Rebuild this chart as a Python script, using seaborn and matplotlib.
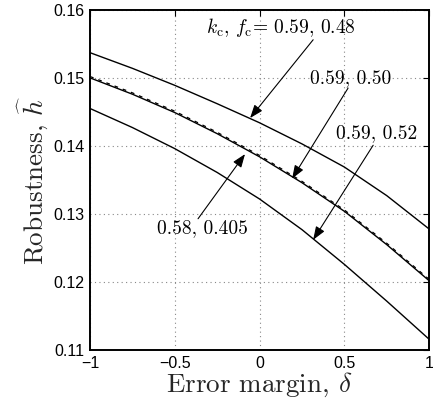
import matplotlib
matplotlib.use("Agg")
import matplotlib.pyplot as plt
import seaborn as sns
import pandas as pd

# ---- data ----
delta = [-1.0, -0.75, -0.5, -0.25, 0.0, 0.25, 0.5, 0.75, 1.0]
h_059_048 = [0.1537, 0.1514, 0.1489, 0.1462, 0.1434, 0.1403, 0.1369, 0.1327, 0.1278]
h_059_050 = [0.1500, 0.1476, 0.1449, 0.1418, 0.1384, 0.1346, 0.1304, 0.1255, 0.1202]
h_059_052 = [0.1455, 0.1427, 0.1396, 0.1361, 0.1322, 0.1277, 0.1226, 0.1172, 0.1116]
h_058_0405 = [0.1502, 0.1478, 0.1451, 0.1420, 0.1386, 0.1348, 0.1306, 0.1257, 0.1204]

x_ticks = [-1, -0.5, 0, 0.5, 1]
x_ticklabels = ["\u22121", "\u22120.5", "0", "0.5", "1"]
y_ticks = [0.11, 0.12, 0.13, 0.14, 0.15, 0.16]
y_ticklabels = ["0.11", "0.12", "0.13", "0.14", "0.15", "0.16"]

# annotation texts, label anchor (data) and arrow (tail, tip) in data units
labels = [r"$k_{\rm c}$, $f_{\rm c}$= 0.59, 0.48", "0.59, 0.50",
          "0.59, 0.52", "0.58, 0.405"]
label_xy = [(0.127, 0.1574), (0.540, 0.1499), (0.693, 0.1419), (-0.339, 0.1279)]
arrow_tail = [(0.316, 0.1556), (0.522, 0.1485), (0.670, 0.1401), (-0.363, 0.1293)]
arrow_tip = [(-0.056, 0.1441), (0.192, 0.1352), (0.316, 0.1262), (-0.086, 0.1388)]

sns.set_style("white")
plt.rcParams["mathtext.fontset"] = "cm"
plt.rcParams["font.family"] = ["Liberation Sans", "DejaVu Sans"]

fig = plt.figure(figsize=(4.33, 4.09), dpi=100)
ax = fig.add_axes([0.208, 0.144, 0.783, 0.832])

for ys in (h_059_048, h_059_050, h_059_052):
    df = pd.DataFrame({"delta": delta, "h": ys})
    sns.lineplot(data=df, x="delta", y="h", ax=ax, color="black", lw=1.0)
df = pd.DataFrame({"delta": delta, "h": h_058_0405})
sns.lineplot(data=df, x="delta", y="h", ax=ax, color="black", lw=0.9,
             dashes=False, linestyle=(0, (3, 4)))

for lab, lxy, tail, tip in zip(labels, label_xy, arrow_tail, arrow_tip):
    ax.text(lxy[0], lxy[1], lab, ha="center", va="center", fontsize=14,
            color="black", family="cmr10")
    ax.annotate("", xy=tip, xytext=tail,
                arrowprops=dict(arrowstyle="-|>,head_length=0.8,head_width=0.3",
                                color="black", lw=0.8, shrinkA=0, shrinkB=0))

ax.set_xlim(-1, 1)
ax.set_ylim(0.11, 0.16)
ax.set_xticks(x_ticks)
ax.set_xticklabels(x_ticklabels, fontsize=11.5)
ax.set_yticks(y_ticks)
ax.set_yticklabels(y_ticklabels, fontsize=11.5)
ax.tick_params(direction="in", length=4, width=0.8, top=True, right=True,
               pad=4, colors="black")
ax.grid(True, linestyle=(0, (1, 3)), color="#888888", lw=0.8)
for s in ax.spines.values():
    s.set_linewidth(1.4)
    s.set_color("black")

ax.set_xlabel(r"Error margin, $\delta$", fontsize=19.5, labelpad=0,
              family="cmr10")
ax.set_ylabel(r"Robustness, $\widehat{h}$", fontsize=19.5, labelpad=2,
              family="cmr10")

fig.savefig("out.png", dpi=100)
